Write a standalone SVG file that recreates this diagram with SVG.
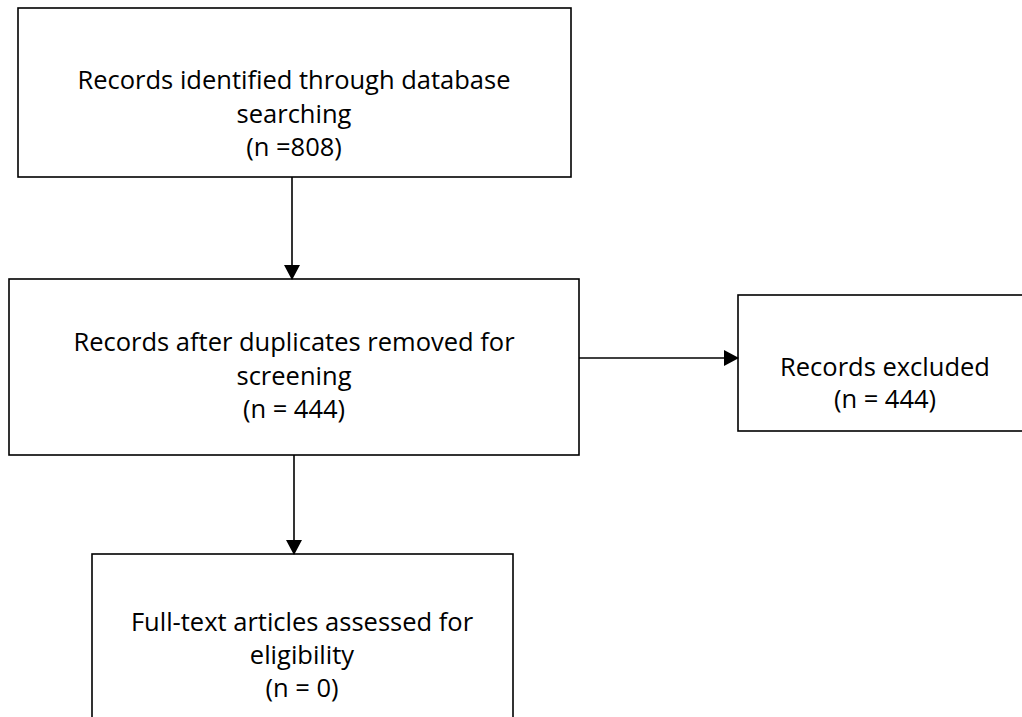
<svg xmlns="http://www.w3.org/2000/svg" width="1022" height="717" viewBox="0 0 1022 717">
<defs>
<style>
.box{fill:#fff;stroke:#000;stroke-width:1.6}
.t{font-family:"Open Sans","Liberation Sans",sans-serif;font-size:25.5px;fill:#000;text-anchor:middle}
.c{stroke:#000;stroke-width:1.6;fill:none}
</style>
<marker id="ah" markerWidth="18" markerHeight="18" refX="14" refY="8.5" orient="auto" markerUnits="userSpaceOnUse">
<path d="M0,0.5 L15,8.5 L0,16.5 Z" fill="#000"/>
</marker>
</defs>
<rect width="1022" height="717" fill="#fff"/>
<g id="n1">
<rect class="box" x="18" y="8" width="553" height="169"/>
<text class="t"><tspan x="294" y="89">Records identified through database</tspan><tspan x="294" y="122.5">searching</tspan><tspan x="294" y="156">(n =808)</tspan></text>
</g>
<g id="n2">
<rect class="box" x="9" y="279" width="570" height="176"/>
<text class="t"><tspan x="294" y="351">Records after duplicates removed for</tspan><tspan x="294" y="385">screening</tspan><tspan x="294" y="418">(n = 444)</tspan></text>
</g>
<g id="n3">
<rect class="box" x="738" y="295" width="300" height="136"/>
<text class="t"><tspan x="885" y="376">Records excluded</tspan><tspan x="885" y="408">(n = 444)</tspan></text>
</g>
<g id="n4">
<rect class="box" x="92" y="554" width="421" height="200"/>
<text class="t"><tspan x="302" y="631">Full-text articles assessed for</tspan><tspan x="302" y="664">eligibility</tspan><tspan x="302" y="697">(n = 0)</tspan></text>
</g>
<g id="connectors">
<line class="c" x1="292" y1="177" x2="292" y2="279" marker-end="url(#ah)"/>
<line class="c" x1="579" y1="358" x2="738" y2="358" marker-end="url(#ah)"/>
<line class="c" x1="294" y1="455" x2="294" y2="554" marker-end="url(#ah)"/>
</g>
</svg>
